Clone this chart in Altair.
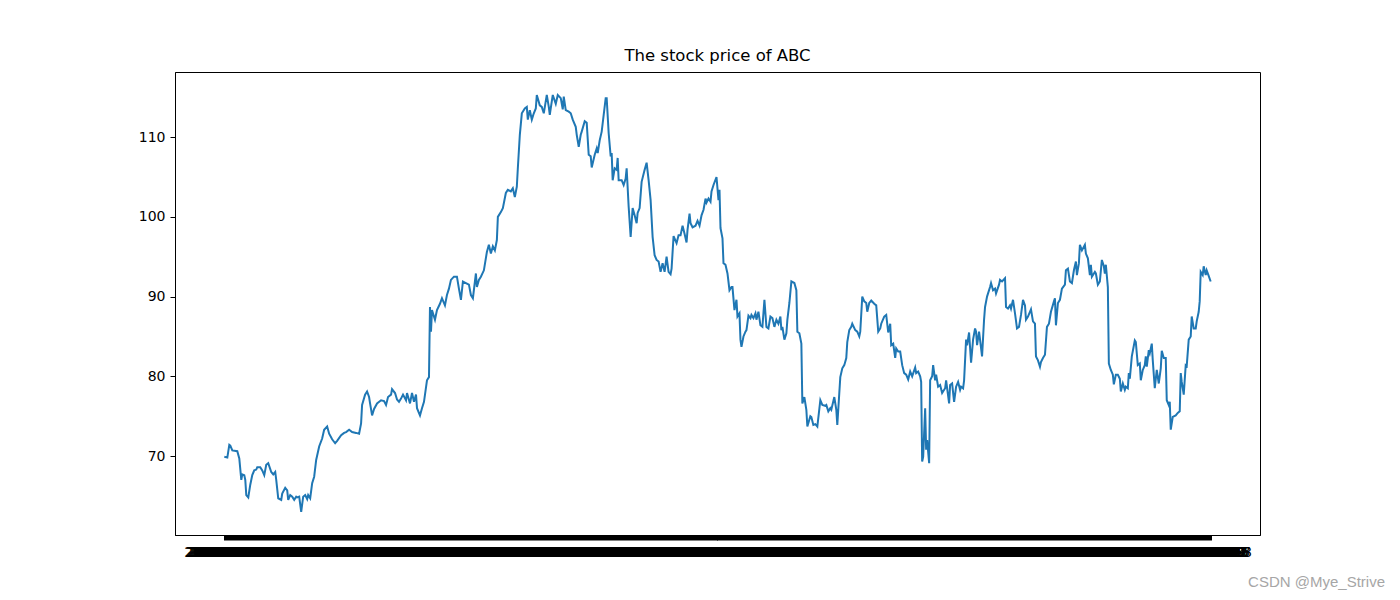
import altair as alt
import pandas as pd

# Trading-day index (position along the series) and closing price
days = [0, 3, 5, 6, 8, 13, 15, 17, 18, 20, 21, 22, 24, 26, 28, 30, 32, 33, 36, 38,
        40, 42, 44, 47, 49, 51, 52, 54, 57, 58, 61, 63, 64, 66, 68, 70, 72, 73, 75, 77,
        79, 81, 83, 84, 86, 88, 90, 92, 95, 98, 100, 103, 105, 108, 111, 113, 117, 120, 122, 125,
        128, 132, 135, 137, 138, 141, 143, 145, 146, 148, 150, 153, 157, 160, 162, 164, 167, 168, 171, 173,
        175, 177, 179, 182, 183, 186, 188, 190, 192, 193, 196, 198, 200, 203, 205, 206, 207, 208, 211, 213,
        216, 218, 221, 223, 225, 227, 230, 233, 235, 237, 239, 242, 245, 247, 249, 252, 253, 255, 257, 260,
        263, 265, 267, 269, 271, 273, 274, 277, 279, 282, 284, 287, 289, 291, 293, 294, 296, 298, 301, 303,
        304, 306, 308, 310, 312, 313, 316, 318, 320, 323, 325, 326, 329, 332, 334, 337, 339, 340, 342, 345,
        347, 349, 352, 353, 355, 357, 358, 361, 363, 365, 367, 368, 371, 373, 374, 376, 378, 380, 382, 383,
        385, 387, 388, 389, 391, 393, 394, 395, 398, 400, 402, 403, 405, 407, 409, 411, 413, 414, 416, 418,
        421, 423, 425, 427, 429, 431, 433, 435, 437, 439, 441, 443, 445, 447, 448, 450, 453, 455, 457, 459,
        461, 463, 464, 466, 467, 469, 472, 474, 476, 478, 480, 482, 483, 485, 487, 488, 490, 493, 495, 496,
        497, 499, 500, 502, 504, 506, 508, 509, 511, 513, 514, 516, 517, 518, 520, 522, 523, 525, 527, 528,
        530, 532, 533, 535, 537, 539, 541, 543, 545, 547, 549, 551, 553, 555, 557, 558, 559, 561, 563, 564,
        566, 568, 571, 573, 574, 576, 578, 579, 581, 583, 584, 587, 588, 590, 592, 594, 597, 599, 602, 603,
        605, 607, 608, 611, 613, 614, 616, 617, 619, 621, 623, 624, 626, 628, 629, 632, 634, 636, 637, 639,
        641, 643, 644, 646, 648, 651, 653, 655, 657, 658, 661, 663, 665, 667, 668, 670, 672, 673, 675, 677,
        679, 681, 683, 685, 687, 689, 692, 693, 695, 697, 698, 699, 700, 702, 703, 704, 706, 707, 709, 710,
        712, 713, 715, 717, 719, 722, 723, 726, 727, 729, 731, 733, 735, 737, 738, 740, 741, 743, 744, 746,
        748, 750, 752, 753, 754, 756, 759, 761, 762, 764, 767, 768, 770, 772, 773, 776, 777, 779, 782, 783,
        785, 787, 788, 790, 792, 794, 796, 798, 800, 802, 803, 805, 808, 810, 812, 813, 815, 817, 818, 820,
        822, 824, 826, 828, 831, 832, 833, 835, 837, 839, 842, 843, 845, 847, 849, 851, 853, 854, 856, 857,
        859, 862, 863, 865, 867, 868, 869, 872, 873, 875, 877, 879, 881, 882, 883, 885, 886, 888, 890, 891,
        893, 895, 897, 898, 900, 902, 903, 905, 906, 907, 909, 912, 913, 915, 917, 918, 920, 922, 923, 924,
        926, 927, 929, 930, 932, 934, 936, 938, 939, 941, 943, 944, 946, 947, 948, 950, 953, 955, 957, 958,
        959, 961, 963, 964, 966, 968, 969, 971, 973, 974, 976, 977, 978, 980, 981, 983, 984, 986, 988]

prices = [69.9, 69.8, 71.4, 71.3, 70.7, 70.6, 69.7, 67.0, 67.7, 67.6, 67.0, 65.1, 64.8, 66.4, 67.6, 68.2, 68.3, 68.6, 68.6, 68.2,
          67.6, 68.9, 69.1, 68.0, 67.7, 68.0, 67.0, 64.7, 64.5, 65.3, 66.0, 65.7, 64.5, 65.1, 64.9, 64.5, 64.9, 64.8, 64.9, 63.0,
          64.9, 65.1, 64.6, 65.1, 64.7, 66.6, 67.4, 69.5, 71.2, 72.2, 73.3, 73.7, 72.8, 72.1, 71.6, 71.9, 72.6, 72.9, 73.0, 73.3,
          73.0, 72.9, 72.8, 74.1, 76.4, 77.7, 78.1, 77.4, 76.6, 75.1, 75.9, 76.6, 77.0, 76.9, 76.4, 77.4, 77.7, 78.4, 77.9, 77.1,
          76.8, 77.2, 77.7, 77.0, 77.9, 76.6, 77.9, 76.8, 77.7, 76.0, 75.1, 76.0, 76.8, 79.5, 79.9, 88.7, 85.6, 88.3, 87.1, 88.3,
          89.1, 89.8, 88.9, 90.2, 91.0, 92.1, 92.5, 92.5, 91.0, 89.6, 91.9, 91.7, 91.5, 90.2, 89.8, 92.9, 91.2, 92.1, 92.5, 93.3,
          95.6, 96.5, 95.4, 96.3, 95.8, 97.1, 100.0, 100.6, 101.1, 103.0, 103.4, 103.2, 103.6, 102.5, 103.8, 106.1, 110.3, 113.0, 113.6, 113.8,
          112.2, 113.4, 112.2, 113.0, 113.6, 115.3, 114.0, 113.8, 113.0, 115.3, 113.8, 112.8, 115.3, 114.2, 115.3, 114.9, 113.5, 115.1, 113.4, 113.2,
          113.0, 112.2, 111.3, 110.3, 108.8, 110.3, 110.7, 112.0, 111.8, 107.8, 107.6, 106.2, 107.8, 108.6, 108.0, 109.6, 110.7, 112.8, 114.9, 114.9,
          110.5, 107.6, 108.0, 104.6, 106.1, 105.9, 107.4, 104.6, 104.6, 104.0, 104.8, 106.1, 101.3, 97.5, 101.1, 100.2, 99.2, 100.5, 101.1, 104.4,
          105.9, 106.8, 104.6, 102.1, 97.5, 95.2, 94.6, 94.4, 93.1, 94.2, 93.1, 95.0, 93.1, 92.8, 93.5, 97.6, 96.7, 97.7, 97.7, 98.9,
          97.9, 96.8, 98.4, 100.4, 99.2, 98.7, 98.9, 99.5, 98.9, 100.2, 100.9, 102.3, 101.8, 102.3, 101.9, 103.2, 104.0, 105.0, 102.1, 103.4,
          98.6, 97.3, 94.2, 94.0, 92.9, 90.8, 91.2, 91.2, 88.3, 89.6, 87.5, 87.9, 84.6, 83.7, 85.0, 85.6, 85.8, 87.6, 87.3, 87.7,
          87.3, 87.9, 87.1, 88.1, 86.4, 86.2, 89.6, 86.2, 86.0, 87.5, 87.3, 86.2, 87.1, 86.6, 87.5, 85.8, 86.2, 84.6, 85.4, 87.1,
          89.2, 91.9, 91.7, 90.8, 85.6, 85.4, 84.1, 76.6, 77.4, 75.8, 73.7, 75.0, 74.9, 73.9, 74.0, 73.7, 77.0, 76.4, 76.3, 76.4,
          75.6, 76.0, 75.8, 77.4, 75.8, 73.9, 77.9, 79.9, 81.0, 81.4, 82.3, 84.3, 85.8, 86.2, 86.6, 85.8, 85.6, 85.0, 85.6, 90.0,
          89.4, 89.2, 88.1, 89.2, 89.5, 89.1, 88.9, 85.6, 86.0, 86.6, 87.5, 87.7, 85.5, 86.6, 83.9, 84.1, 82.3, 83.5, 83.1, 83.1,
          81.4, 80.4, 80.2, 79.6, 80.6, 80.0, 81.1, 80.4, 80.6, 80.0, 79.3, 69.3, 69.9, 76.0, 70.8, 72.0, 69.1, 79.5, 80.0, 81.4,
          79.5, 80.2, 78.7, 78.9, 77.9, 78.5, 79.5, 76.6, 78.9, 79.1, 76.8, 78.7, 79.3, 78.3, 78.7, 78.5, 79.5, 84.6, 83.9, 85.5,
          81.7, 84.6, 86.0, 85.6, 83.9, 85.6, 82.5, 87.1, 88.7, 90.0, 91.2, 91.7, 90.8, 91.0, 90.4, 91.5, 92.1, 91.9, 92.3, 88.7,
          88.5, 88.9, 88.5, 89.6, 87.9, 86.0, 86.2, 87.7, 89.6, 88.9, 87.1, 87.5, 88.4, 86.9, 86.6, 82.5, 82.0, 81.2, 81.8, 82.3,
          82.7, 86.2, 86.6, 88.1, 89.4, 89.8, 86.4, 89.2, 89.6, 91.0, 91.5, 93.3, 93.5, 91.9, 91.7, 93.3, 94.4, 92.7, 94.2, 96.5,
          95.8, 96.5, 95.4, 94.8, 92.7, 94.0, 92.5, 93.1, 92.9, 91.5, 91.9, 94.6, 93.8, 92.9, 94.0, 91.2, 81.6, 80.8, 80.2, 79.0,
          80.2, 80.2, 79.7, 78.1, 79.1, 78.3, 78.7, 78.5, 80.4, 79.7, 82.5, 84.5, 84.3, 81.4, 81.6, 79.5, 80.8, 81.4, 82.5, 81.2,
          83.3, 82.9, 84.1, 82.0, 78.5, 80.8, 79.1, 81.0, 83.2, 82.3, 82.3, 77.0, 76.4, 76.8, 73.3, 74.9, 75.1, 75.4, 75.6, 80.4,
          79.3, 77.7, 81.4, 81.3, 84.6, 85.0, 87.5, 86.0, 86.0, 86.9, 88.1, 89.4, 93.1, 92.7, 93.8, 92.7, 93.3, 92.6, 91.9]

y_ticks = [70, 80, 90, 100, 110]
title_text = "The stock price of ABC"
watermark = ["CSDN @Mye_Strive"]

n_last = days[-1]
x_ticks = list(range(0, n_last + 1))

df = pd.DataFrame({"day": days, "price": prices})
wm = pd.DataFrame({"t": watermark})

x_axis = alt.Axis(
    values=x_ticks,
    labelExpr="timeFormat(datetime(2015, 0, 5 + floor(datum.value / 5) * 7 + datum.value % 5), '%Y-%m-%d')",
    labelOverlap=False, labelFlush=False, labelBound=False, labelAngle=0,
    tickSize=5, tickWidth=1, tickColor="black", labelPadding=5,
    labelFontSize=14, labelFont="DejaVu Sans", labelColor="black",
    domainColor="black", grid=False, title=None,
)
y_axis = alt.Axis(
    values=y_ticks, tickSize=5, tickWidth=1, tickColor="black", labelPadding=5,
    labelFontSize=14, labelFont="DejaVu Sans", labelColor="black",
    domainColor="black", grid=False, title=None,
)

line = alt.Chart(df).mark_line(color="#1f77b4", strokeWidth=2).encode(
    x=alt.X("day:Q", scale=alt.Scale(domain=[-0.05 * n_last, 1.05 * n_last], nice=False, zero=False), axis=x_axis),
    y=alt.Y("price:Q", scale=alt.Scale(domain=[60.09, 118.18], nice=False, zero=False), axis=y_axis),
)

mark_wm = alt.Chart(wm).mark_text(
    fontSize=15, font="Liberation Sans", color="#a6a6a6", align="right", baseline="middle"
).encode(text="t:N", x=alt.value(1210), y=alt.value(510))

chart = alt.layer(line, mark_wm).properties(
    width=1085, height=463,
    title=alt.TitleParams(title_text, fontSize=16.5, font="DejaVu Sans", fontWeight="normal",
                          color="black", anchor="middle", offset=8),
    padding={"left": 167, "top": 64, "right": 125, "bottom": 55},
    autosize=alt.AutoSizeParams(type="none"),
).configure_view(stroke="black", strokeWidth=1)

chart.save("out.html", embed_options={"renderer": "svg", "actions": False})
